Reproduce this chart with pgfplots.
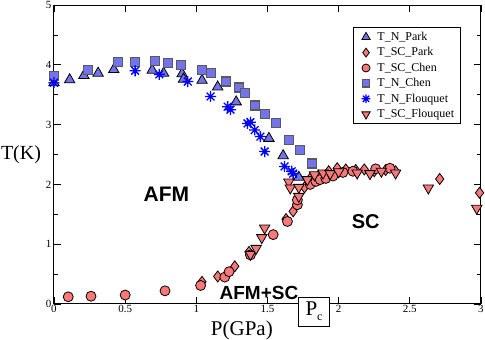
\documentclass[border=0pt]{standalone}
\usepackage{fontspec}
\setmainfont{Liberation Serif}
\newfontfamily\lsans{Liberation Sans}
\usepackage{pgfplots}
\pgfplotsset{compat=1.18}

\definecolor{nblue}{RGB}{115,115,235}
\definecolor{spink}{RGB}{250,120,120}
\definecolor{fblue}{RGB}{0,0,255}

% 8-arm star like xmgrace
\pgfdeclareplotmark{ast8}{%
  \pgfpathmoveto{\pgfqpoint{-\pgfplotmarksize}{0pt}}\pgfpathlineto{\pgfqpoint{\pgfplotmarksize}{0pt}}%
  \pgfpathmoveto{\pgfqpoint{0pt}{-\pgfplotmarksize}}\pgfpathlineto{\pgfqpoint{0pt}{\pgfplotmarksize}}%
  \pgfpathmoveto{\pgfqpoint{-0.707\pgfplotmarksize}{-0.707\pgfplotmarksize}}\pgfpathlineto{\pgfqpoint{0.707\pgfplotmarksize}{0.707\pgfplotmarksize}}%
  \pgfpathmoveto{\pgfqpoint{-0.707\pgfplotmarksize}{0.707\pgfplotmarksize}}\pgfpathlineto{\pgfqpoint{0.707\pgfplotmarksize}{-0.707\pgfplotmarksize}}%
  \pgfusepathqstroke}

\begin{document}
\begin{tikzpicture}
\begin{axis}[
at={(0,0)}, anchor=south west,
scale only axis,
width=427pt, height=299pt,
xmin=0, xmax=3, ymin=0, ymax=5,
xtick={0,0.5,1,1.5,2,2.5,3},
ytick={0,1,2,3,4,5},
minor y tick num=1,
tick align=inside,
major tick length=7pt,
minor tick length=4pt,
axis line style={line width=1pt},
every tick/.style={black, line width=0.8pt},
/pgf/number format/assume math mode=true,
xticklabel style={font=\fontsize{11}{12}\selectfont, yshift=2pt},
yticklabel style={font=\fontsize{11}{12}\selectfont, xshift=1pt},
clip=false,
legend style={
at={(rel axis cs:0.70,0.925)},
anchor=north west,
draw=black, line width=0.6pt,
font=\fontsize{12}{13}\selectfont,
row sep=1.6pt,
inner xsep=4pt, inner ysep=2.5pt,
cells={anchor=west},
},
legend image code/.code={%
  \path (0cm,0cm) (0.62cm,0cm);
  \draw[#1, every mark/.append style={scale=0.8}] plot coordinates {(0.3cm,0cm)};},
]

\addplot[only marks, mark=triangle*, mark size=6pt, mark options={fill=nblue, draw=black, line width=0.8pt}]
coordinates {(0.0,3.70) (0.11,3.75) (0.21,3.82) (0.31,3.86) (0.42,3.92) (0.69,3.91) (0.77,3.86) (0.90,3.85) (0.91,3.76) (1.04,3.74) (1.15,3.63) (1.28,3.38) (1.51,2.77) (1.61,2.48) (1.72,2.12)};
\addlegendentry{T\_N\_Park}

\addplot[only marks, mark=diamond*, mark size=5.5pt, mark options={fill=spink, draw=black, line width=0.8pt}]
coordinates {(1.04,0.37) (1.15,0.46) (1.27,0.63) (1.37,0.87) (1.63,1.42) (1.68,1.55) (1.76,1.95) (1.80,2.10) (1.86,2.15) (1.93,2.22) (1.99,2.27) (2.05,2.25) (2.12,2.24) (2.18,2.25) (2.25,2.22) (2.33,2.24) (2.40,2.22) (2.71,2.09) (2.99,1.86)};
\addlegendentry{T\_SC\_Park}

\addplot[only marks, mark=*, mark size=5pt, mark options={fill=spink, draw=black, line width=0.8pt}]
coordinates {(0.10,0.12) (0.26,0.13) (0.50,0.15) (0.78,0.22) (1.03,0.31) (1.20,0.45) (1.23,0.54) (1.38,0.82) (1.54,1.16) (1.64,1.38) (1.71,1.66) (1.71,1.74) (1.80,2.00) (1.84,2.05) (1.87,2.08) (1.91,2.10) (1.96,2.14) (2.03,2.20) (2.10,2.22) (2.26,2.26) (2.36,2.27)};
\addlegendentry{T\_SC\_Chen}

\addplot[only marks, mark=square*, mark size=4.5pt, mark options={fill=nblue, draw=black!65, line width=1.1pt}]
coordinates {(0.0,3.82) (0.24,3.92) (0.45,4.04) (0.57,4.04) (0.71,4.06) (0.80,4.03) (0.89,4.00) (1.04,3.91) (1.10,3.86) (1.21,3.72) (1.30,3.62) (1.34,3.53) (1.41,3.32) (1.48,3.18) (1.56,3.02) (1.65,2.74) (1.73,2.58) (1.81,2.35)};
\addlegendentry{T\_N\_Chen}

\addplot[only marks, mark=ast8, mark size=5.5pt, mark options={draw=fblue, line width=1.3pt}]
coordinates {(0.0,3.70) (0.57,3.90) (0.74,3.84) (0.94,3.72) (1.10,3.47) (1.22,3.30) (1.24,3.25) (1.36,3.02) (1.38,3.04) (1.41,2.91) (1.45,2.80) (1.48,2.55) (1.62,2.30) (1.67,2.22) (1.68,2.18)};
\addlegendentry{T\_N\_Flouquet}

\addplot[only marks, mark=triangle*, mark size=6pt, mark options={rotate=180, fill=spink, draw=black, line width=0.8pt}]
coordinates {(1.38,0.83) (1.42,0.93) (1.46,1.11) (1.48,1.27) (1.65,2.04) (1.66,1.94) (1.72,1.95) (1.72,1.80) (1.78,2.08) (1.83,2.16) (1.89,2.19) (1.94,2.18) (2.00,2.21) (2.13,2.19) (2.22,2.18) (2.30,2.22) (2.40,2.19) (2.63,1.94) (2.97,1.60)};
\addlegendentry{T\_SC\_Flouquet}

\node[font=\lsans\bfseries\fontsize{21}{24}\selectfont] at (axis cs:0.79,1.84) {AFM};
\node[font=\lsans\bfseries\fontsize{20}{24}\selectfont] at (axis cs:2.19,1.37) {SC};
\node[font=\lsans\bfseries\fontsize{19}{22}\selectfont] at (axis cs:1.44,0.19) {AFM+SC};
\node[draw, fill=white, line width=0.8pt, minimum width=31pt, minimum height=29pt, inner sep=0pt,
  font=\fontsize{21}{24}\selectfont] at (axis cs:1.827,-0.125) {P\raisebox{-0.55ex}{\fontsize{12}{12}\selectfont c}};
\node[font=\fontsize{20}{24}\selectfont] at (rel axis cs:0,0.5) [xshift=-33pt] {T(K)};
\node[font=\fontsize{21}{24}\selectfont] at (rel axis cs:0.44,0) [yshift=-26pt] {P(GPa)};
\end{axis}
\pgfresetboundingbox
\useasboundingbox (-54pt,-36pt) rectangle (431pt,304pt);
\end{tikzpicture}
\end{document}
